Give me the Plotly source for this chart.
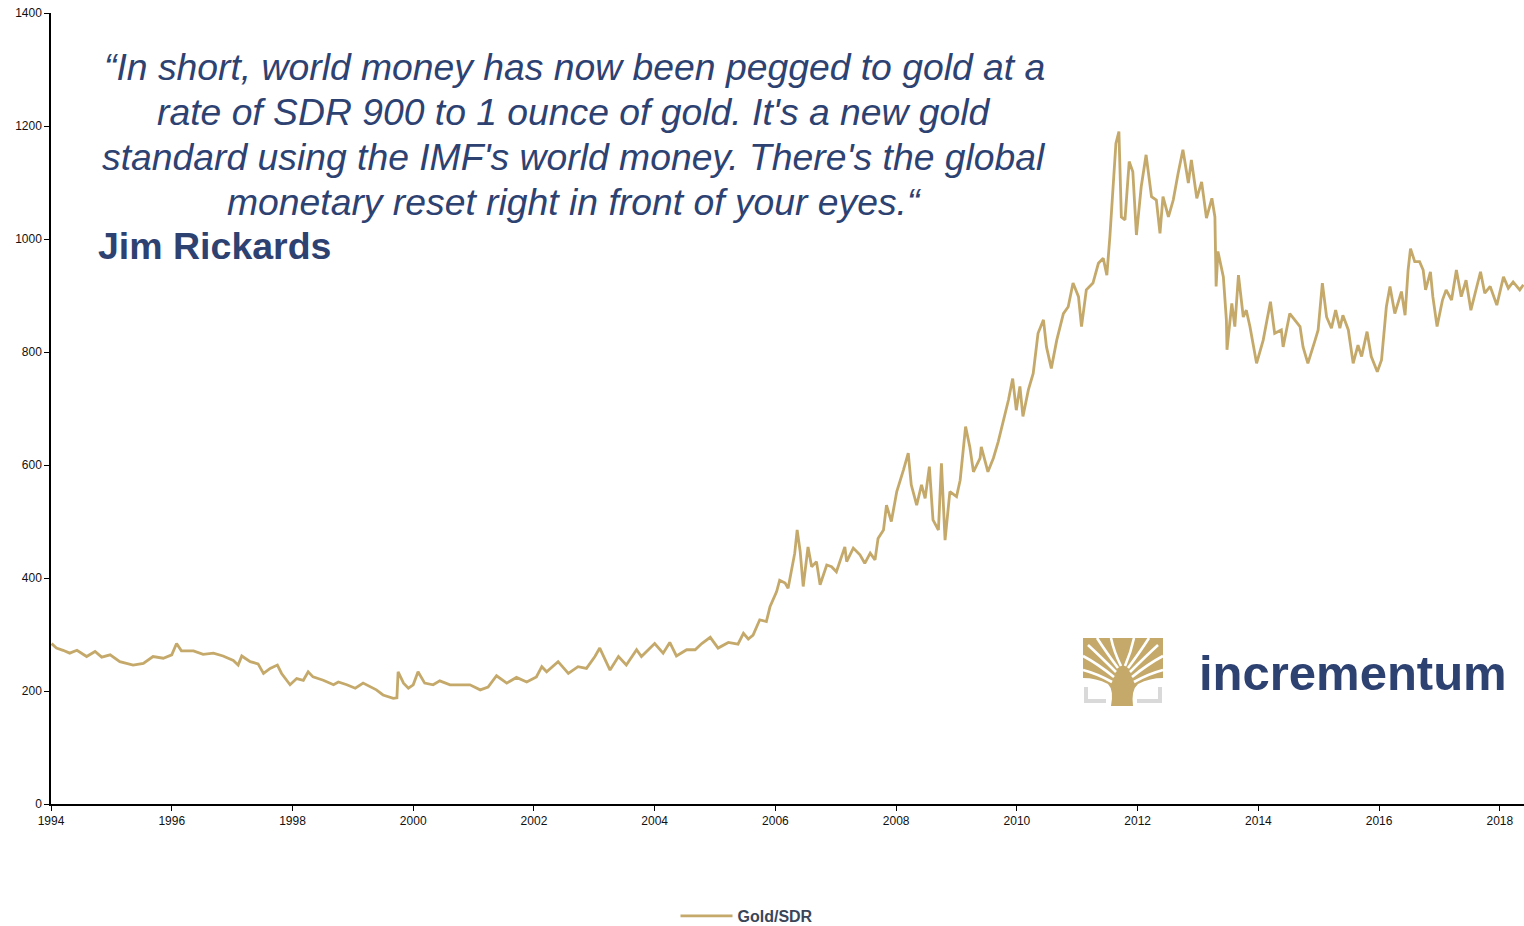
import plotly.graph_objects as go

# ---- data (decimal year, Gold price in SDR) ----
years = [
    1994.01, 1994.09, 1994.20, 1994.31, 1994.43, 1994.59, 1994.73, 1994.84, 1994.98,
    1995.14, 1995.36, 1995.53, 1995.69, 1995.86, 1996.00, 1996.08, 1996.16, 1996.36,
    1996.52, 1996.69, 1996.85, 1997.02, 1997.10, 1997.16, 1997.30, 1997.43, 1997.52,
    1997.63, 1997.75, 1997.82, 1997.96, 1998.07, 1998.18, 1998.26, 1998.34, 1998.51,
    1998.68, 1998.76, 1998.90, 1999.04, 1999.17, 1999.28, 1999.39, 1999.50, 1999.67,
    1999.73, 1999.75, 1999.84, 1999.92, 2000.00, 2000.08, 2000.19, 2000.33, 2000.44,
    2000.61, 2000.77, 2000.94, 2001.11, 2001.24, 2001.38, 2001.55, 2001.71, 2001.88,
    2002.04, 2002.13, 2002.21, 2002.40, 2002.57, 2002.73, 2002.87, 2003.01, 2003.09,
    2003.26, 2003.40, 2003.53, 2003.70, 2003.78, 2004.00, 2004.14, 2004.25, 2004.36,
    2004.53, 2004.67, 2004.78, 2004.92, 2005.05, 2005.22, 2005.38, 2005.47, 2005.55,
    2005.63, 2005.74, 2005.85, 2005.91, 2006.02, 2006.07, 2006.16, 2006.21, 2006.27,
    2006.32, 2006.36, 2006.41, 2006.46, 2006.54, 2006.60, 2006.68, 2006.74, 2006.85,
    2006.93, 2007.01, 2007.15, 2007.18, 2007.29, 2007.40, 2007.48, 2007.57, 2007.65,
    2007.70, 2007.79, 2007.84, 2007.92, 2008.01, 2008.12, 2008.20, 2008.25, 2008.34,
    2008.42, 2008.48, 2008.55, 2008.61, 2008.70, 2008.75, 2008.81, 2008.89, 2009.00,
    2009.06, 2009.15, 2009.22, 2009.28, 2009.39, 2009.41, 2009.52, 2009.61, 2009.69,
    2009.86, 2009.93, 2009.99, 2010.05, 2010.10, 2010.19, 2010.27, 2010.35, 2010.44,
    2010.49, 2010.57, 2010.66, 2010.77, 2010.85, 2010.93, 2011.02, 2011.07, 2011.15,
    2011.26, 2011.35, 2011.43, 2011.49, 2011.54, 2011.60, 2011.64, 2011.69, 2011.73,
    2011.79, 2011.86, 2011.92, 2011.98, 2012.06, 2012.14, 2012.23, 2012.31, 2012.37,
    2012.42, 2012.51, 2012.59, 2012.67, 2012.75, 2012.84, 2012.89, 2012.98, 2013.06,
    2013.14, 2013.23, 2013.28, 2013.30, 2013.33, 2013.42, 2013.47, 2013.48, 2013.56,
    2013.61, 2013.67, 2013.75, 2013.80, 2013.86, 2013.97, 2014.08, 2014.20, 2014.27,
    2014.38, 2014.41, 2014.52, 2014.60, 2014.69, 2014.74, 2014.82, 2014.94, 2014.99,
    2015.06, 2015.13, 2015.21, 2015.28, 2015.35, 2015.40, 2015.49, 2015.57, 2015.65,
    2015.71, 2015.80, 2015.87, 2015.97, 2016.04, 2016.12, 2016.18, 2016.26, 2016.32,
    2016.37, 2016.43, 2016.48, 2016.52, 2016.59, 2016.67, 2016.73, 2016.77, 2016.85,
    2016.89, 2016.96, 2017.05, 2017.11, 2017.20, 2017.28, 2017.36, 2017.44, 2017.52,
    2017.61, 2017.68, 2017.75, 2017.84, 2017.95, 2018.06, 2018.14, 2018.22, 2018.33,
    2018.39,
]
gold_sdr = [
    284, 276, 272, 267, 272, 261, 270, 260, 264,
    252, 246, 249, 261, 258, 264, 284, 271, 271,
    265, 267, 262, 254, 246, 262, 252, 248, 231,
    240, 246, 231, 211, 222, 219, 234, 225, 219,
    211, 216, 211, 205, 214, 208, 202, 193, 187,
    188, 234, 214, 205, 211, 234, 214, 211, 218,
    211, 211, 211, 202, 207, 227, 214, 224, 216,
    225, 243, 234, 252, 231, 243, 240, 261, 276,
    237, 261, 246, 273, 261, 284, 267, 286, 262,
    273, 273, 284, 295, 276, 286, 283, 302, 292,
    299, 326, 323, 349, 376, 396, 391, 382, 414,
    444, 485, 447, 385, 455, 420, 429, 388, 423,
    420, 411, 455, 429, 453, 441, 426, 444, 432,
    470, 485, 529, 500, 553, 591, 621, 565, 529,
    565, 541, 597, 503, 485, 603, 467, 553, 544,
    573, 668, 632, 588, 612, 632, 588, 612, 641,
    715, 753, 697, 739, 686, 733, 762, 833, 857,
    809, 771, 821, 868, 880, 922, 898, 845, 910,
    922, 957, 966, 936, 1004, 1104, 1169, 1190, 1039,
    1034, 1137, 1119, 1007, 1093, 1149, 1075, 1069, 1010,
    1075, 1039, 1069, 1116, 1158, 1099, 1140, 1072, 1101,
    1037, 1072, 1039, 916, 978, 933, 857, 804, 886,
    845, 936, 862, 874, 845, 780, 821, 889, 833,
    839, 809, 868, 857, 845, 809, 780, 821, 839,
    922, 862, 842, 874, 842, 865, 839, 780, 812,
    792, 836, 792, 765, 786, 880, 916, 868, 892,
    907, 865, 945, 983, 960, 960, 945, 910, 942,
    898, 845, 892, 910, 892, 945, 898, 927, 874,
    913, 942, 904, 916, 883, 933, 913, 924, 910,
    919,
]
series_name = "Gold/SDR"
x_ticks = [1994, 1996, 1998, 2000, 2002, 2004, 2006, 2008, 2010, 2012, 2014, 2016, 2018]
y_ticks = [0, 200, 400, 600, 800, 1000, 1200, 1400]

quote_lines = [
    "\u201cIn short, world money has now been pegged to gold at a",
    "rate of SDR 900 to 1 ounce of gold. It's a new gold",
    "standard using the IMF's world money. There's the global",
    "monetary reset right in front of your eyes.\u201c",
]
author = "Jim Rickards"
brand = "incrementum"

GOLD = "#C4A96B"
NAVY = "#2E4272"
FONT = "Liberation Sans, Arial, sans-serif"

W, H = 1524, 926
L, R, T, B = 51, 0, 13, 122
PW, PH = W - L - R, H - T - B


def fx(p):
    return (p - L) / PW


def fy(p):
    return (H - B - p) / PH


fig = go.Figure()
fig.add_trace(go.Scatter(
    x=years, y=gold_sdr, mode="lines", name="<b>" + series_name + "</b>",
    line=dict(color=GOLD, width=2.8), hoverinfo="x+y",
))

fig.update_layout(
    width=W, height=H,
    margin=dict(l=L, r=R, t=T, b=B, pad=0, autoexpand=False),
    paper_bgcolor="white", plot_bgcolor="white",
    font=dict(family=FONT, size=12, color="#111"),
    showlegend=True,
    legend=dict(
        orientation="h", x=fx(747), xanchor="center", y=fy(916), yanchor="middle",
        font=dict(family=FONT, size=16, color="#3A4658"), itemwidth=52,
        bgcolor="rgba(0,0,0,0)",
    ),
    xaxis=dict(
        range=[1994, 2018.4], tickvals=x_ticks, ticktext=[str(v) for v in x_ticks],
        showgrid=False, zeroline=False, showline=True, linecolor="black", linewidth=1.5,
        ticks="outside", ticklen=5, tickcolor="black", tickwidth=1.2, automargin=False,
        tickfont=dict(family=FONT, size=12, color="#111"),
    ),
    yaxis=dict(
        range=[0, 1400], tickvals=y_ticks, automargin=False,
        showgrid=False, zeroline=False, showline=True, linecolor="black", linewidth=1.5,
        ticks="outside", ticklen=5, tickcolor="black", tickwidth=1.2,
        tickfont=dict(family=FONT, size=12, color="#111"),
    ),
)

# quote, one annotation per line
for line, yc in zip(quote_lines, [67, 112, 157, 202]):
    fig.add_annotation(
        xref="paper", yref="paper", x=fx(574), y=fy(yc), xanchor="center", yanchor="middle",
        text="<i>" + line + "</i>", showarrow=False, align="center",
        font=dict(family=FONT, size=37.3, color=NAVY),
    )
fig.add_annotation(
    xref="paper", yref="paper", x=fx(96), y=fy(246), xanchor="left", yanchor="middle",
    text="<b>" + author + "</b>", showarrow=False, align="left",
    font=dict(family=FONT, size=37.5, color=NAVY),
)

# logo: text
fig.add_annotation(
    xref="paper", yref="paper", x=fx(1197), y=fy(673), xanchor="left", yanchor="middle",
    text="<b>" + brand + "</b>", showarrow=False,
    font=dict(family=FONT, size=49, color=NAVY),
)


# logo: tree icon
def P(x, y):
    return f"{fx(x):.5f},{fy(y):.5f}"


tree = ("M " + P(1111, 706) + " Q " + P(1114, 690) + " " + P(1108, 684) + " Q " + P(1096, 678)
        + " " + P(1083, 678)
        + " L " + P(1083, 638) + " L " + P(1163, 638) + " L " + P(1163, 678)
        + " Q " + P(1150, 678) + " " + P(1138, 684) + " Q " + P(1131, 690) + " " + P(1133, 706) + " Z")
fig.add_shape(type="path", xref="paper", yref="paper", path=tree,
              fillcolor=GOLD, line=dict(width=0), layer="above")

branches = [
    ((1112, 682), (1098, 674), (1083, 670)),
    ((1114, 677), (1098, 664), (1083, 656)),
    ((1116, 672), (1100, 656), (1088, 645)),
    ((1118, 668), (1106, 652), (1097, 638)),
    ((1121, 666), (1114, 652), (1111, 638)),
    ((1125, 666), (1131, 652), (1134, 638)),
    ((1128, 668), (1140, 652), (1149, 638)),
    ((1130, 672), (1146, 656), (1158, 645)),
    ((1132, 677), (1148, 664), (1163, 656)),
    ((1134, 682), (1148, 674), (1163, 670)),
]
for a, c, e in branches:
    fig.add_shape(type="path", xref="paper", yref="paper",
                  path="M " + P(*a) + " Q " + P(*c) + " " + P(*e),
                  line=dict(color="white", width=2.6), layer="above")

GRAY = "#D9D9D9"
for x0, x1, y0, y1 in [(1084, 1088, 687, 703), (1084, 1106, 699, 703),
                       (1158, 1162, 687, 703), (1137, 1162, 699, 703)]:
    fig.add_shape(type="rect", xref="paper", yref="paper",
                  x0=fx(x0), x1=fx(x1), y0=fy(y1), y1=fy(y0),
                  fillcolor=GRAY, line=dict(width=0), layer="above")

fig.write_html(
    "out.html",
    config={"displayModeBar": False},
    post_script="document.body.style.margin='0px';document.body.style.overflow='hidden';",
)
